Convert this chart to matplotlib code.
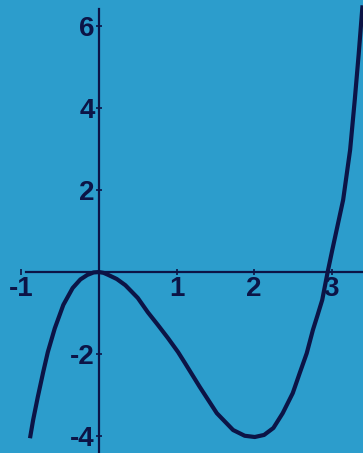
import matplotlib.pyplot as plt

plt.rcParams['axes.unicode_minus'] = False

# points
xs = [-0.89, -0.85, -0.79, -0.72, -0.66, -0.57, -0.46, -0.34, -0.24, -0.15, -0.07, 0.0,
      0.06, 0.12, 0.23, 0.34, 0.50, 0.63, 0.76, 0.89, 1.02, 1.11, 1.30, 1.52, 1.73,
      1.88, 2.01, 2.13, 2.25, 2.37, 2.50, 2.59, 2.68, 2.76, 2.82, 2.88, 2.95, 3.01,
      3.15, 3.24, 3.30, 3.35, 3.40]
ys = [-4.05, -3.61, -3.05, -2.44, -1.95, -1.37, -0.80, -0.39, -0.18, -0.07, -0.01, 0.0,
      -0.02, -0.07, -0.17, -0.32, -0.63, -0.98, -1.29, -1.61, -1.95, -2.22, -2.80, -3.44,
      -3.85, -3.99, -4.02, -3.97, -3.80, -3.44, -2.95, -2.46, -1.98, -1.41, -1.05, -0.68,
      0.0, 0.54, 1.76, 2.98, 4.20, 5.30, 6.50]
xticks = [-1, 1, 2, 3]
yticks = [-4, -2, 2, 4, 6]

bg = '#2c9dcc'
ink = '#0c1446'

fig = plt.figure(figsize=(3.63, 4.53), dpi=100, facecolor=bg)
ax = fig.add_axes([0, 0, 1, 1], facecolor=bg)

ax.plot(xs, ys, color=ink, lw=3, solid_joinstyle='round', solid_capstyle='butt')

ax.set_xlim(-1.277, 3.406)
ax.set_ylim(-4.41, 6.63)

for s in ['top', 'right']:
    ax.spines[s].set_visible(False)
ax.spines['left'].set_position(('data', 0))
ax.spines['bottom'].set_position(('data', 0))
ax.spines['left'].set_bounds(-4.41, 6.4)
ax.spines['bottom'].set_bounds(-0.94, 3.406)
for s in ['left', 'bottom']:
    ax.spines[s].set_color(ink)
    ax.spines[s].set_linewidth(1.6)

ax.set_xticks(xticks)
ax.set_yticks(yticks)
ax.tick_params(axis='both', direction='inout', length=4, width=1.2, color=ink,
               labelcolor=ink, labelsize=20)
ax.tick_params(axis='y', pad=1)
ax.tick_params(axis='x', pad=1)
for lab in ax.get_xticklabels() + ax.get_yticklabels():
    lab.set_fontfamily('Liberation Sans')
    lab.set_fontweight('bold')

fig.savefig('out.png', dpi=100, facecolor=bg)
